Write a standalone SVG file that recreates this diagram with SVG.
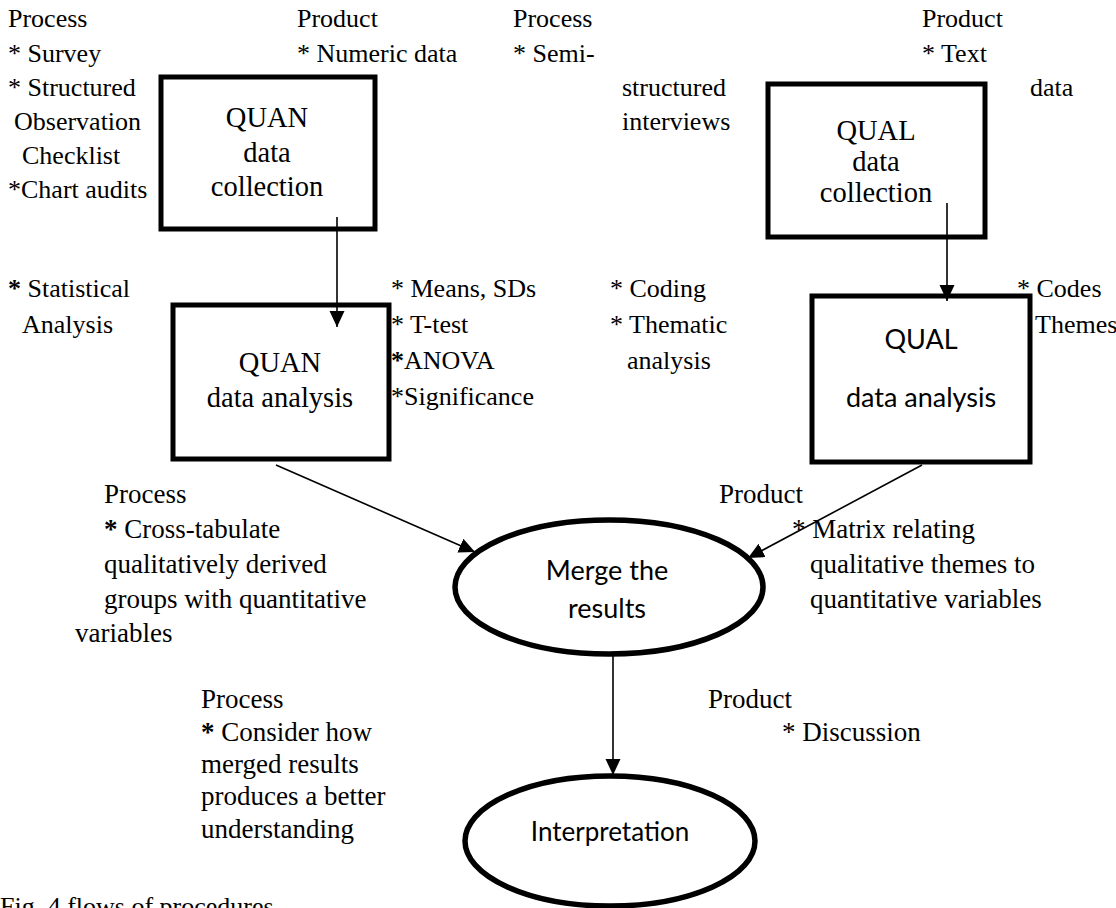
<svg xmlns="http://www.w3.org/2000/svg" width="1116" height="908" viewBox="0 0 1116 908">
<style>
  .t { font-family: "Liberation Serif", "Times New Roman", serif; font-size: 26px; fill: #000; }
  .m { font-size: 27px; }
  .b { font-weight: bold; }
  .bx { font-family: "Liberation Serif", "Times New Roman", serif; font-size: 28.5px; fill: #000; text-anchor: middle; }
  .sx { font-family: Lato, "Open Sans", "Liberation Sans", sans-serif; font-size: 27px; fill: #000; text-anchor: middle; }
  .node { fill: #fff; stroke: #000; stroke-width: 5; }
  .conn { stroke: #000; stroke-width: 1.6; fill: none; marker-end: url(#ah); }
</style>
<defs>
  <marker id="ah" markerUnits="userSpaceOnUse" markerWidth="17" markerHeight="16" refX="16" refY="7.5" orient="auto">
    <path d="M0,0 L16,7.5 L0,15 Z" fill="#000"/>
  </marker>
</defs>
<rect width="1116" height="908" fill="#fff"/>

<g id="labels">
  <text class="t" x="8" y="27">Process</text>
  <text class="t" x="8" y="62">* Survey</text>
  <text class="t" x="8" y="96">* Structured</text>
  <text class="t" x="14" y="130">Observation</text>
  <text class="t" x="22" y="164">Checklist</text>
  <text class="t" x="8" y="198">*Chart audits</text>

  <text class="t" x="297" y="27">Product</text>
  <text class="t" x="297" y="62">* Numeric data</text>

  <text class="t" x="513" y="27">Process</text>
  <text class="t" x="513" y="62">* Semi-</text>
  <text class="t" x="622" y="96">structured</text>
  <text class="t" x="622" y="130">interviews</text>

  <text class="t" x="922" y="27">Product</text>
  <text class="t" x="922" y="62">* Text</text>
  <text class="t" x="1030" y="96">data</text>

  <text class="t" x="8" y="297"><tspan class="b">*</tspan> Statistical</text>
  <text class="t" x="22" y="333">Analysis</text>

  <text class="t" x="391" y="297">* Means, SDs</text>
  <text class="t" x="391" y="333">* T-test</text>
  <text class="t" x="391" y="369"><tspan class="b">*</tspan>ANOVA</text>
  <text class="t" x="391" y="405">*Significance</text>

  <text class="t" x="610" y="297">* Coding</text>
  <text class="t" x="610" y="333">* Thematic</text>
  <text class="t" x="627" y="369">analysis</text>

  <text class="t" x="1017" y="297">* Codes</text>
  <text class="t" x="1035" y="333">Themes</text>

  <text class="t m" x="104" y="503">Process</text>
  <text class="t m" x="104" y="538"><tspan class="b">*</tspan> Cross-tabulate</text>
  <text class="t m" x="104" y="573">qualitatively derived</text>
  <text class="t m" x="104" y="608">groups with quantitative</text>
  <text class="t m" x="75" y="642">variables</text>

  <text class="t m" x="719" y="503">Product</text>
  <text class="t m" x="792" y="538">* Matrix relating</text>
  <text class="t m" x="810" y="573">qualitative themes to</text>
  <text class="t m" x="810" y="608">quantitative variables</text>

  <text class="t m" x="201" y="708">Process</text>
  <text class="t m" x="201" y="741"><tspan class="b">*</tspan> Consider how</text>
  <text class="t m" x="201" y="773">merged results</text>
  <text class="t m" x="201" y="805">produces a better</text>
  <text class="t m" x="201" y="838">understanding</text>

  <text class="t m" x="708" y="708">Product</text>
  <text class="t m" x="782" y="741">* Discussion</text>

  <text class="t" x="0" y="915">Fig. 4 flows of procedures</text>
</g>

<g id="quan-collection">
  <rect class="node" x="161" y="77" width="214" height="152"/>
  <text class="bx" x="267" y="127">QUAN</text>
  <text class="bx" x="267" y="162">data</text>
  <text class="bx" x="267" y="196">collection</text>
</g>

<g id="quan-analysis">
  <rect class="node" x="173" y="305" width="216" height="154"/>
  <text class="bx" x="280" y="372">QUAN</text>
  <text class="bx" x="280" y="407">data analysis</text>
</g>

<g id="qual-collection">
  <rect class="node" x="768" y="84" width="217" height="153"/>
  <text class="bx" x="876" y="140">QUAL</text>
  <text class="bx" x="876" y="171">data</text>
  <text class="bx" x="876" y="202">collection</text>
</g>

<g id="qual-analysis">
  <rect class="node" x="812" y="296" width="218" height="166"/>
  <text class="sx" x="921" y="349">QUAL</text>
  <text class="sx" x="921" y="407">data analysis</text>
</g>

<g id="merge">
  <ellipse class="node" cx="609" cy="587" rx="154" ry="67" style="stroke-width:5.5"/>
  <text class="sx" x="607" y="580">Merge the</text>
  <text class="sx" x="607" y="618">results</text>
</g>

<g id="interpretation">
  <ellipse class="node" cx="610" cy="841" rx="145" ry="65" style="stroke-width:5.5"/>
  <text class="sx" x="610" y="841" style="font-size:26px">Interpretation</text>
</g>

<g id="connectors">
  <line class="conn" x1="337" y1="217" x2="337" y2="327"/>
  <line class="conn" x1="947" y1="203" x2="947" y2="301"/>
  <line class="conn" x1="276" y1="465" x2="475" y2="552"/>
  <line class="conn" x1="922" y1="465" x2="748" y2="558"/>
  <line class="conn" x1="613" y1="656" x2="613" y2="775"/>
</g>
</svg>
